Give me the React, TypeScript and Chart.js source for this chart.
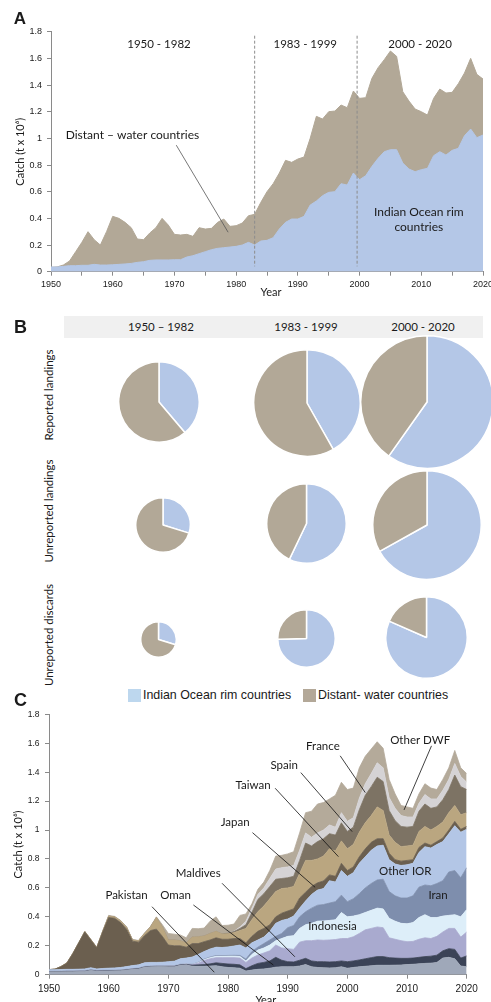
import React, { useEffect, useRef } from "react";
import { Chart, registerables } from "chart.js";

Chart.register(...registerables);

// ---------------- DATA ----------------
const YEARS = [
  1950, 1951, 1952, 1953, 1954, 1955, 1956, 1957, 1958, 1959,
  1960, 1961, 1962, 1963, 1964, 1965, 1966, 1967, 1968, 1969,
  1970, 1971, 1972, 1973, 1974, 1975, 1976, 1977, 1978, 1979,
  1980, 1981, 1982, 1983, 1984, 1985, 1986, 1987, 1988, 1989,
  1990, 1991, 1992, 1993, 1994, 1995, 1996, 1997, 1998, 1999,
  2000, 2001, 2002, 2003, 2004, 2005, 2006, 2007, 2008, 2009,
  2010, 2011, 2012, 2013, 2014, 2015, 2016, 2017, 2018, 2019,
  2020,
];

// Panel A: total catch (IOR + distant-water) and IOR catch, t x 10^6
const TOTAL_CATCH_A = [
  0.033, 0.036, 0.05, 0.08, 0.15, 0.22, 0.30, 0.24, 0.20, 0.30,
  0.415, 0.40, 0.37, 0.33, 0.245, 0.24, 0.29, 0.33, 0.40, 0.35,
  0.28, 0.275, 0.28, 0.265, 0.33, 0.32, 0.325, 0.37, 0.395, 0.34,
  0.345, 0.365, 0.42, 0.43, 0.52, 0.60, 0.66, 0.74, 0.835, 0.82,
  0.845, 0.86, 1.0, 1.165, 1.145, 1.20, 1.205, 1.25, 1.23, 1.355,
  1.30, 1.305, 1.45, 1.53, 1.59, 1.655, 1.615, 1.35, 1.28, 1.22,
  1.20, 1.175, 1.30, 1.37, 1.34, 1.345, 1.41, 1.49, 1.60, 1.48,
  1.445,
];
const IOR_CATCH_A = [
  0.035, 0.035, 0.04, 0.045, 0.045, 0.048, 0.048, 0.055, 0.05, 0.05,
  0.052, 0.055, 0.058, 0.062, 0.07, 0.075, 0.085, 0.088, 0.088, 0.088,
  0.09, 0.09, 0.11, 0.12, 0.135, 0.15, 0.165, 0.175, 0.18, 0.185,
  0.19, 0.20, 0.22, 0.20, 0.23, 0.235, 0.255, 0.32, 0.37, 0.395,
  0.395, 0.415, 0.50, 0.53, 0.57, 0.595, 0.60, 0.66, 0.65, 0.74,
  0.69, 0.72, 0.79, 0.85, 0.90, 0.915, 0.915, 0.815, 0.77, 0.75,
  0.765, 0.775, 0.87, 0.90, 0.875, 0.91, 0.925, 1.02, 1.07, 1.005,
  1.025,
];
const PERIOD_BREAKS_A = [1983, 1999.6];
const PERIOD_LABELS = ["1950 - 1982", "1983 - 1999", "2000 - 2020"];

// Panel B: share (%) of Indian Ocean rim (IOR) and distant-water (DWF) countries
const PERIOD_HEADERS_B = ["1950 – 1982", "1983 - 1999", "2000 - 2020"];
const CATCH_TYPES_B = ["Reported landings", "Unreported landings", "Unreported discards"];
const IOR_SHARE_REPORTED = [38.8, 41.8, 59.8];
const DWF_SHARE_REPORTED = [61.2, 58.2, 40.2];
const IOR_SHARE_UNREP_LANDINGS = [29.8, 57.1, 66.9];
const DWF_SHARE_UNREP_LANDINGS = [70.2, 42.9, 33.1];
const IOR_SHARE_UNREP_DISCARDS = [29.7, 74.6, 81.6];
const DWF_SHARE_UNREP_DISCARDS = [70.3, 25.4, 18.4];

// Panel C: catch by fleet, t x 10^6 (stacked bottom to top)
const PAKISTAN = [
  0.020, 0.020, 0.020, 0.021, 0.021, 0.022, 0.022, 0.030, 0.024, 0.025,
  0.026, 0.027, 0.028, 0.032, 0.037, 0.040, 0.052, 0.055, 0.056, 0.056,
  0.055, 0.055, 0.065, 0.068, 0.058, 0.058, 0.058, 0.060, 0.062, 0.055,
  0.050, 0.048, 0.045, 0.025, 0.032, 0.037, 0.040, 0.045, 0.052, 0.055,
  0.055, 0.055, 0.060, 0.070, 0.055, 0.050, 0.048, 0.047, 0.048, 0.055,
  0.045, 0.050, 0.055, 0.058, 0.062, 0.065, 0.065, 0.065, 0.066, 0.067,
  0.070, 0.072, 0.075, 0.078, 0.080, 0.085, 0.115, 0.120, 0.110, 0.060,
  0.055,
];
const OMAN = [
  0.002, 0.002, 0.002, 0.002, 0.002, 0.002, 0.002, 0.002, 0.002, 0.002,
  0.002, 0.002, 0.002, 0.002, 0.002, 0.002, 0.002, 0.002, 0.002, 0.002,
  0.003, 0.003, 0.003, 0.003, 0.008, 0.010, 0.012, 0.015, 0.020, 0.023,
  0.024, 0.024, 0.023, 0.017, 0.030, 0.041, 0.045, 0.050, 0.068, 0.045,
  0.035, 0.033, 0.040, 0.043, 0.040, 0.040, 0.042, 0.041, 0.042, 0.040,
  0.045, 0.045, 0.047, 0.052, 0.056, 0.060, 0.060, 0.053, 0.049, 0.046,
  0.043, 0.043, 0.045, 0.047, 0.048, 0.050, 0.050, 0.060, 0.065, 0.055,
  0.075,
];
const MALDIVES = [
  0.001, 0.001, 0.001, 0.001, 0.001, 0.001, 0.001, 0.001, 0.001, 0.001,
  0.001, 0.001, 0.001, 0.001, 0.001, 0.001, 0.001, 0.001, 0.001, 0.001,
  0.002, 0.002, 0.002, 0.002, 0.004, 0.012, 0.028, 0.035, 0.036, 0.040,
  0.044, 0.046, 0.047, 0.043, 0.053, 0.058, 0.065, 0.070, 0.085, 0.085,
  0.090, 0.087, 0.125, 0.122, 0.140, 0.150, 0.148, 0.152, 0.153, 0.155,
  0.160, 0.167, 0.183, 0.200, 0.202, 0.205, 0.200, 0.137, 0.130, 0.122,
  0.115, 0.115, 0.125, 0.130, 0.122, 0.130, 0.130, 0.140, 0.145, 0.145,
  0.165,
];
const INDONESIA = [
  0.001, 0.001, 0.001, 0.001, 0.001, 0.001, 0.001, 0.001, 0.001, 0.001,
  0.001, 0.001, 0.001, 0.001, 0.001, 0.001, 0.001, 0.001, 0.001, 0.001,
  0.001, 0.001, 0.001, 0.001, 0.001, 0.003, 0.006, 0.008, 0.009, 0.009,
  0.010, 0.010, 0.011, 0.010, 0.025, 0.034, 0.035, 0.040, 0.030, 0.065,
  0.085, 0.095, 0.095, 0.110, 0.120, 0.130, 0.134, 0.135, 0.137, 0.180,
  0.150, 0.143, 0.130, 0.120, 0.125, 0.130, 0.130, 0.135, 0.125, 0.120,
  0.124, 0.130, 0.150, 0.160, 0.145, 0.130, 0.110, 0.090, 0.095, 0.140,
  0.155,
];
const IRAN = [
  0.001, 0.001, 0.001, 0.001, 0.001, 0.001, 0.001, 0.001, 0.001, 0.001,
  0.001, 0.001, 0.001, 0.001, 0.001, 0.001, 0.001, 0.001, 0.001, 0.001,
  0.001, 0.001, 0.001, 0.001, 0.001, 0.002, 0.003, 0.004, 0.005, 0.005,
  0.005, 0.006, 0.007, 0.013, 0.020, 0.020, 0.030, 0.035, 0.030, 0.035,
  0.060, 0.070, 0.080, 0.090, 0.105, 0.110, 0.113, 0.120, 0.125, 0.120,
  0.105, 0.120, 0.145, 0.170, 0.185, 0.195, 0.205, 0.185, 0.175, 0.175,
  0.178, 0.185, 0.210, 0.205, 0.220, 0.235, 0.245, 0.300, 0.305, 0.270,
  0.290,
];
const OTHER_IOR = [
  0.010, 0.010, 0.011, 0.011, 0.011, 0.011, 0.013, 0.013, 0.011, 0.013,
  0.014, 0.015, 0.017, 0.019, 0.021, 0.023, 0.025, 0.025, 0.024, 0.025,
  0.028, 0.031, 0.038, 0.040, 0.050, 0.055, 0.053, 0.056, 0.058, 0.056,
  0.059, 0.064, 0.072, 0.077, 0.060, 0.050, 0.045, 0.060, 0.090, 0.090,
  0.060, 0.065, 0.060, 0.075, 0.095, 0.105, 0.110, 0.155, 0.135, 0.170,
  0.175, 0.180, 0.210, 0.215, 0.230, 0.235, 0.235, 0.220, 0.220, 0.225,
  0.230, 0.225, 0.240, 0.265, 0.260, 0.270, 0.270, 0.265, 0.310, 0.315,
  0.265,
];
const JAPAN = [
  0.000, 0.003, 0.019, 0.043, 0.108, 0.182, 0.255, 0.192, 0.145, 0.252,
  0.350, 0.343, 0.310, 0.259, 0.169, 0.157, 0.188, 0.220, 0.230, 0.179,
  0.115, 0.107, 0.090, 0.075, 0.093, 0.075, 0.068, 0.062, 0.065, 0.057,
  0.053, 0.052, 0.045, 0.035, 0.045, 0.060, 0.060, 0.045, 0.045, 0.050,
  0.055, 0.050, 0.070, 0.060, 0.055, 0.050, 0.053, 0.040, 0.040, 0.050,
  0.040, 0.040, 0.045, 0.055, 0.055, 0.050, 0.045, 0.045, 0.030, 0.030,
  0.030, 0.025, 0.035, 0.025, 0.020, 0.020, 0.025, 0.025, 0.030, 0.020,
  0.020,
];
const TAIWAN = [
  0.000, 0.000, 0.001, 0.001, 0.002, 0.002, 0.003, 0.003, 0.003, 0.005,
  0.010, 0.010, 0.012, 0.013, 0.008, 0.010, 0.015, 0.025, 0.080, 0.065,
  0.035, 0.040, 0.035, 0.030, 0.045, 0.047, 0.040, 0.045, 0.045, 0.037,
  0.038, 0.040, 0.055, 0.100, 0.115, 0.135, 0.155, 0.180, 0.175, 0.170,
  0.160, 0.155, 0.170, 0.220, 0.180, 0.165, 0.172, 0.180, 0.175, 0.155,
  0.150, 0.155, 0.170, 0.180, 0.185, 0.220, 0.195, 0.125, 0.120, 0.100,
  0.100, 0.100, 0.110, 0.115, 0.105, 0.105, 0.110, 0.120, 0.110, 0.100,
  0.095,
];
const SPAIN = [
  0, 0, 0, 0, 0, 0, 0, 0, 0, 0,
  0, 0, 0, 0, 0, 0, 0, 0, 0, 0,
  0, 0, 0, 0, 0, 0, 0, 0, 0, 0,
  0.005, 0.008, 0.015, 0.025, 0.050, 0.085, 0.085, 0.085, 0.085, 0.070,
  0.070, 0.070, 0.090, 0.120, 0.100, 0.120, 0.120, 0.105, 0.110, 0.125,
  0.120, 0.120, 0.155, 0.190, 0.200, 0.205, 0.200, 0.170, 0.150, 0.140,
  0.130, 0.130, 0.140, 0.155, 0.150, 0.135, 0.155, 0.160, 0.210, 0.195,
  0.160,
];
const FRANCE = [
  0, 0, 0, 0, 0, 0, 0, 0, 0, 0,
  0, 0, 0, 0, 0, 0, 0, 0, 0, 0,
  0, 0, 0, 0, 0, 0, 0, 0, 0, 0,
  0.000, 0.002, 0.010, 0.025, 0.030, 0.035, 0.040, 0.055, 0.070, 0.075,
  0.075, 0.075, 0.070, 0.070, 0.060, 0.060, 0.060, 0.060, 0.055, 0.070,
  0.070, 0.065, 0.080, 0.080, 0.090, 0.100, 0.095, 0.090, 0.085, 0.075,
  0.070, 0.065, 0.055, 0.065, 0.065, 0.055, 0.065, 0.070, 0.080, 0.070,
  0.050,
];
const OTHER_DWF = [
  0.001, 0.001, 0.001, 0.001, 0.001, 0.001, 0.002, 0.002, 0.002, 0.002,
  0.005, 0.003, 0.003, 0.002, 0.002, 0.002, 0.003, 0.003, 0.005, 0.015,
  0.045, 0.040, 0.040, 0.035, 0.060, 0.056, 0.054, 0.085, 0.100, 0.058,
  0.054, 0.050, 0.080, 0.050, 0.030, 0.035, 0.040, 0.055, 0.090, 0.085,
  0.090, 0.095, 0.120, 0.140, 0.180, 0.200, 0.190, 0.180, 0.220, 0.210,
  0.220, 0.205, 0.210, 0.190, 0.170, 0.145, 0.135, 0.125, 0.100, 0.070,
  0.070, 0.060, 0.065, 0.075, 0.075, 0.065, 0.075, 0.080, 0.090, 0.060,
  0.060,
];

const FLEETS_C = ["Pakistan", "Oman", "Maldives", "Indonesia", "Iran", "Other IOR", "Japan", "Taiwan", "Spain", "France", "Other DWF"];
const FLEET_VALUES_C = [PAKISTAN, OMAN, MALDIVES, INDONESIA, IRAN, OTHER_IOR, JAPAN, TAIWAN, SPAIN, FRANCE, OTHER_DWF];

// ---------------- STYLE ----------------
const BLUE = "#b4c7e7";
const BROWN = "#b2a897";
const LEGEND_BLUE = "#bdd7ee";
const LEGEND_BROWN = "#b3a898";
const FLEET_COLORS = ["#9fa8b9", "#3b4357", "#a9aacf", "#ddeef9", "#7e8ead", "#b3c6e6", "#6b5f4f", "#baa680", "#7d7364", "#d5d3d5", "#b4aa9a"];
const AXIS_COLOR = "#8a8a8a";
const TEXT = "#1a1a1a";
const CAL = "Lato, 'Open Sans', sans-serif";
const ARI = "'Liberation Sans', Arial, sans-serif";

// ---------------- ANNOTATION PLUGIN ----------------
const annotPlugin = {
  id: "annot",
  afterDatasetsDraw(chart: any, _args: any, opts: any) {
    const { ctx, chartArea, scales } = chart;
    const xs = scales.x;
    const ys = scales.y;
    ctx.save();
    for (const l of opts.lines || []) {
      ctx.beginPath();
      ctx.strokeStyle = l.color || "#000";
      ctx.lineWidth = l.width || 0.8;
      ctx.setLineDash(l.dash || []);
      ctx.moveTo(xs.getPixelForValue(l.x1), ys.getPixelForValue(l.y1));
      ctx.lineTo(xs.getPixelForValue(l.x2), ys.getPixelForValue(l.y2));
      ctx.stroke();
    }
    ctx.setLineDash([]);
    ctx.textAlign = "center";
    ctx.textBaseline = "middle";
    for (const t of opts.texts || []) {
      ctx.font = t.font;
      ctx.fillStyle = t.color || TEXT;
      ctx.fillText(t.text, xs.getPixelForValue(t.x), ys.getPixelForValue(t.y));
    }
    const at = opts.axisTitles;
    if (at) {
      ctx.font = at.font;
      ctx.fillStyle = TEXT;
      ctx.fillText(at.x, (chartArea.left + chartArea.right) / 2 + at.xDx, chartArea.bottom + at.xDy);
      ctx.save();
      ctx.translate(chartArea.left - at.yDx, (chartArea.top + chartArea.bottom) / 2);
      ctx.rotate(-Math.PI / 2);
      ctx.fillText(at.y, 0, 0);
      ctx.restore();
    }
    ctx.restore();
  },
};

function axes(opts: {
  xStep: number; xFont: number; yFont: number; yWidth: number; xHeight: number; stacked: boolean; xPad: number; yPad: number;
}) {
  return {
    x: {
      type: "linear",
      min: 1950,
      max: 2020,
      ticks: {
        stepSize: opts.xStep,
        autoSkip: false,
        maxRotation: 0,
        callback: (v: number) => (v % 10 === 0 ? String(v) : ""),
        font: { family: ARI, size: opts.xFont },
        color: TEXT,
        padding: opts.xPad,
      },
      grid: { display: true, drawOnChartArea: false, drawTicks: true, tickLength: 4, color: AXIS_COLOR },
      border: { display: true, color: AXIS_COLOR },
      afterFit: (s: any) => { s.height = opts.xHeight; },
    },
    y: {
      min: 0,
      max: 1.8,
      stacked: opts.stacked,
      ticks: {
        stepSize: 0.2,
        callback: (v: number) => String(Math.round(v * 10) / 10),
        font: { family: ARI, size: opts.yFont },
        color: TEXT,
        padding: opts.yPad,
      },
      grid: { display: true, drawOnChartArea: false, drawTicks: true, tickLength: 4, color: AXIS_COLOR },
      border: { display: true, color: AXIS_COLOR },
      afterFit: (s: any) => { s.width = opts.yWidth; },
    },
  };
}

function PanelA() {
  const ref = useRef<HTMLCanvasElement>(null);
  useEffect(() => {
    const yLab = 1.708;
    const chart = new Chart(ref.current as HTMLCanvasElement, {
      type: "line",
      data: {
        datasets: [
          {
            label: "Indian Ocean rim countries",
            data: YEARS.map((x, i) => ({ x, y: IOR_CATCH_A[i] })),
            fill: "origin",
            backgroundColor: BLUE,
            borderColor: BLUE,
            borderWidth: 1,
            pointRadius: 0,
            tension: 0,
          },
          {
            label: "Total",
            data: YEARS.map((x, i) => ({ x, y: TOTAL_CATCH_A[i] })),
            fill: "origin",
            backgroundColor: BROWN,
            borderColor: BROWN,
            borderWidth: 1,
            pointRadius: 0,
            tension: 0,
          },
        ],
      } as any,
      options: {
        responsive: false,
        animation: false,
        events: [],
        layout: { padding: { top: 31.7, right: 17, left: 0, bottom: 0 } },
        plugins: {
          legend: { display: false },
          tooltip: { enabled: false },
          annot: {
            lines: [
              ...PERIOD_BREAKS_A.map((b) => ({ x1: b, y1: 1.77, x2: b, y2: 0.04, color: "#8c8c8c", width: 1, dash: [3, 2] })),
              { x1: 1970.3, y1: 0.949, x2: 1978.7, y2: 0.296, color: "#555", width: 0.8 },
            ],
            texts: [
              { x: 1967.5, y: yLab, text: PERIOD_LABELS[0], font: `11.5px ${CAL}` },
              { x: 1991.2, y: yLab, text: PERIOD_LABELS[1], font: `11.5px ${CAL}` },
              { x: 2009.8, y: yLab, text: PERIOD_LABELS[2], font: `11.5px ${CAL}` },
              { x: 1963.2, y: 1.025, text: "Distant – water countries", font: `12px ${CAL}` },
              { x: 2009.6, y: 0.448, text: "Indian Ocean rim", font: `12px ${CAL}` },
              { x: 2009.6, y: 0.335, text: "countries", font: `12px ${CAL}` },
            ],
            axisTitles: { font: `11px ${CAL}`, x: "Year", xDx: 4, xDy: 20.3, y: "Catch (t x 10⁶)", yDx: 30.3 },
          },
        } as any,
        scales: axes({ xStep: 5, xFont: 9, yFont: 9, yWidth: 51, xHeight: 28.3, stacked: false, xPad: 3, yPad: 5 }) as any,
      },
      plugins: [annotPlugin],
    });
    return () => chart.destroy();
  }, []);
  return <canvas ref={ref} width={500} height={300} style={{ position: "absolute", left: 0, top: 0, width: 500, height: 300 }} />;
}

function PanelC() {
  const ref = useRef<HTMLCanvasElement>(null);
  useEffect(() => {
    const f = `11.5px ${CAL}`;
    const lc = "#111";
    const chart = new Chart(ref.current as HTMLCanvasElement, {
      type: "line",
      data: {
        datasets: FLEETS_C.map((name, k) => ({
          label: name,
          data: YEARS.map((x, i) => ({ x, y: FLEET_VALUES_C[k][i] })),
          fill: k === 0 ? "origin" : "-1",
          backgroundColor: FLEET_COLORS[k],
          borderColor: FLEET_COLORS[k],
          borderWidth: 0.8,
          pointRadius: 0,
          tension: 0,
        })),
      } as any,
      options: {
        responsive: false,
        animation: false,
        events: [],
        layout: { padding: { top: 14.3, right: 24.3, left: 0, bottom: 0 } },
        plugins: {
          legend: { display: false },
          tooltip: { enabled: false },
          annot: {
            lines: [
              { x1: 1967.26, y1: 0.47, x2: 1977.7, y2: 0.017, color: lc },
              { x1: 1974.2, y1: 0.482, x2: 1987.6, y2: 0.067, color: lc },
              { x1: 1979.0, y1: 0.632, x2: 1991.2, y2: 0.124, color: lc },
              { x1: 1984.1, y1: 0.982, x2: 1994.6, y2: 0.604, color: lc },
              { x1: 1987.9, y1: 1.289, x2: 1998.5, y2: 0.816, color: lc },
              { x1: 1992.2, y1: 1.397, x2: 2000.8, y2: 0.989, color: lc },
              { x1: 1998.8, y1: 1.513, x2: 2003.0, y2: 1.259, color: lc },
              { x1: 2014.1, y1: 1.582, x2: 2009.5, y2: 1.139, color: lc },
            ],
            texts: [
              { x: 1963.0, y: 0.551, text: "Pakistan", font: f },
              { x: 1971.2, y: 0.551, text: "Oman", font: f },
              { x: 1975.0, y: 0.701, text: "Maldives", font: f },
              { x: 1981.2, y: 1.051, text: "Japan", font: f },
              { x: 1984.2, y: 1.312, text: "Taiwan", font: f },
              { x: 1989.4, y: 1.45, text: "Spain", font: f },
              { x: 1995.9, y: 1.582, text: "France", font: f },
              { x: 2012.2, y: 1.623, text: "Other DWF", font: f },
              { x: 2009.7, y: 0.717, text: "Other IOR", font: f },
              { x: 2015.2, y: 0.551, text: "Iran", font: f },
              { x: 1997.5, y: 0.332, text: "Indonesia", font: f },
            ],
            axisTitles: { font: `11px ${CAL}`, x: "Year", xDx: 8, xDy: 26, y: "Catch (t x 10⁶)", yDx: 30.7 },
          },
        } as any,
        scales: axes({ xStep: 10, xFont: 10, yFont: 8.5, yWidth: 49, xHeight: 27.3, stacked: true, xPad: 5, yPad: 5.5 }) as any,
      },
      plugins: [annotPlugin],
    });
    return () => chart.destroy();
  }, []);
  return <canvas ref={ref} width={491} height={302} style={{ position: "absolute", left: 0, top: 700, width: 491, height: 302 }} />;
}

function Pie({ ior, dwf, cx, cy, r }: { ior: number; dwf: number; cx: number; cy: number; r: number }) {
  const ref = useRef<HTMLCanvasElement>(null);
  const bw = 1.5;
  const size = Math.round(2 * r + bw);
  useEffect(() => {
    const chart = new Chart(ref.current as HTMLCanvasElement, {
      type: "pie",
      data: {
        labels: ["Indian Ocean rim countries", "Distant- water countries"],
        datasets: [{ data: [ior, dwf], backgroundColor: [BLUE, BROWN], borderColor: "#ffffff", borderWidth: bw }],
      },
      options: {
        responsive: false,
        animation: false,
        events: [],
        layout: { padding: 0 },
        plugins: { legend: { display: false }, tooltip: { enabled: false } },
      },
    });
    return () => chart.destroy();
  }, [ior, dwf, size]);
  return (
    <canvas
      ref={ref}
      width={size}
      height={size}
      style={{ position: "absolute", left: cx - size / 2, top: cy - size / 2, width: size, height: size }}
    />
  );
}

// pie geometry (layout): centre and radius per row/column
const PIE_LAYOUT = [
  [{ cx: 158.7, cy: 402.3, r: 40.3 }, { cx: 306.7, cy: 403, r: 53 }, { cx: 426.7, cy: 402.3, r: 66 }],
  [{ cx: 163.3, cy: 525.3, r: 27.3 }, { cx: 306.7, cy: 523.3, r: 39.7 }, { cx: 426.7, cy: 525.3, r: 54 }],
  [{ cx: 158.5, cy: 639.3, r: 17.7 }, { cx: 306.7, cy: 638, r: 28.5 }, { cx: 426.7, cy: 637, r: 40.5 }],
];
const HEADER_X = [161, 306, 423];
const ROW_LABEL_Y = [395, 510.7, 635];

function Txt({ x, y, children, size, family, rotate, weight }: any) {
  return (
    <div
      style={{
        position: "absolute",
        left: x,
        top: y,
        transform: `translate(-50%, -50%)${rotate ? " rotate(-90deg)" : ""}`,
        whiteSpace: "nowrap",
        fontFamily: family,
        fontSize: size,
        fontWeight: weight || 400,
        lineHeight: 1,
        color: TEXT,
      }}
    >
      {children}
    </div>
  );
}

function PanelB() {
  const ior = [IOR_SHARE_REPORTED, IOR_SHARE_UNREP_LANDINGS, IOR_SHARE_UNREP_DISCARDS];
  const dwf = [DWF_SHARE_REPORTED, DWF_SHARE_UNREP_LANDINGS, DWF_SHARE_UNREP_DISCARDS];
  return (
    <>
      <div style={{ position: "absolute", left: 64, top: 316, width: 419, height: 22, background: "#f0f0f0" }} />
      {PERIOD_HEADERS_B.map((h, j) => (
        <Txt key={h} x={HEADER_X[j]} y={327} size={11.5} family={CAL}>{h}</Txt>
      ))}
      {CATCH_TYPES_B.map((t, i) => (
        <Txt key={t} x={49} y={ROW_LABEL_Y[i]} size={11.5} family={CAL} rotate>{t}</Txt>
      ))}
      {PIE_LAYOUT.map((row, i) =>
        row.map((g, j) => <Pie key={`${i}-${j}`} ior={ior[i][j]} dwf={dwf[i][j]} cx={g.cx} cy={g.cy} r={g.r} />)
      )}
      <div style={{ position: "absolute", left: 128, top: 689, width: 13, height: 13, background: LEGEND_BLUE }} />
      <div style={{ position: "absolute", left: 143, top: 695, transform: "translateY(-50%)", fontFamily: ARI, fontSize: 12.4, lineHeight: 1, color: TEXT, whiteSpace: "nowrap" }}>
        Indian Ocean rim countries
      </div>
      <div style={{ position: "absolute", left: 303, top: 689, width: 13, height: 13, background: LEGEND_BROWN }} />
      <div style={{ position: "absolute", left: 318, top: 695, transform: "translateY(-50%)", fontFamily: ARI, fontSize: 12.4, lineHeight: 1, color: TEXT, whiteSpace: "nowrap" }}>
        Distant- water countries
      </div>
    </>
  );
}

export default function App() {
  return (
    <div style={{ position: "absolute", left: 0, top: 0, width: 491, height: 1002, overflow: "hidden", background: "#fff" }}>
      <PanelA />
      <PanelB />
      <PanelC />
      <Txt x={20} y={18} size={17} family={ARI} weight={700}>A</Txt>
      <Txt x={20.5} y={327} size={18} family={ARI} weight={700}>B</Txt>
      <Txt x={20.5} y={700} size={18} family={ARI} weight={700}>C</Txt>
    </div>
  );
}
